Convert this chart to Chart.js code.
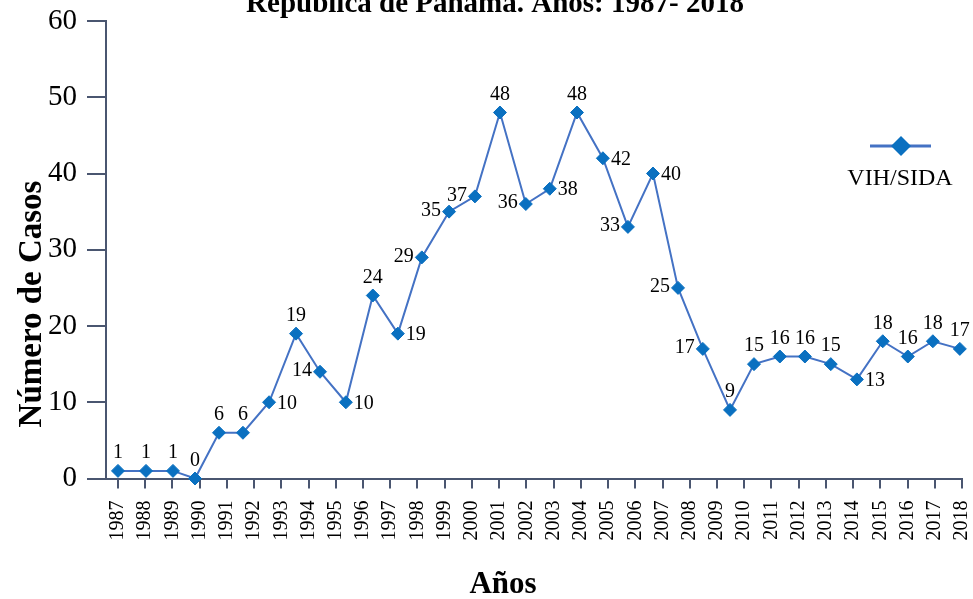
<!DOCTYPE html>
<html>
<head>
<meta charset="utf-8">
<script src="https://cdn.jsdelivr.net/npm/chart.js@4/dist/chart.umd.min.js"></script>
<style>
  html, body { margin: 0; padding: 0; background: #fff; }
  #wrap { width: 973px; height: 599px; }
</style>
</head>
<body>
<div id="wrap"><canvas id="chart" width="973" height="599"></canvas></div>
<script>
// --- DATA ---
const years = [1987, 1988, 1989, 1990, 1991, 1992, 1993, 1994, 1995, 1996, 1997, 1998, 1999, 2000, 2001, 2002,
  2003, 2004, 2005, 2006, 2007, 2008, 2009, 2010, 2011, 2012, 2013, 2014, 2015, 2016, 2017, 2018];
// where each point sits along the year axis
const pointYears = [1987.00, 1988.03, 1989.02, 1989.83, 1990.71, 1991.59, 1992.55, 1993.54, 1994.42, 1995.37,
  1996.36, 1997.28, 1998.16, 1999.16, 2000.11, 2001.03, 2001.98, 2002.86, 2003.86, 2004.81, 2005.73, 2006.65,
  2007.57, 2008.48, 2009.48, 2010.36, 2011.31, 2012.23, 2013.18, 2014.14, 2015.09, 2016.01, 2016.93, 2017.92];
const casos = [1, 1, 1, 0, 6, 6, 10, 19, 14, 10, 24, 19, 29, 35, 37, 48, 36, 38, 48, 42, 33, 40, 25, 17, 9,
  15, 16, 16, 15, 13, 18, 16, 18, 17];
const yTicks = [0, 10, 20, 30, 40, 50, 60];

const serif = "'Liberation Serif', 'Times New Roman', serif";
const axisColor = '#4A5670';
const lineColor = '#4472C4';
const markerColor = '#0A70C0';

// label placement per point: t = above, r = right, l = left
const labelSide = ['t','t','t','t','t','t','r','t','l','r','t','r','l','l','l','t','l','r','t','r','l','r',
  'l','l','t','t','t','t','t','r','t','t','t','t'];

const valueLabels = {
  id: 'valueLabels',
  afterDatasetsDraw(chart) {
    const ctx = chart.ctx;
    const meta = chart.getDatasetMeta(0);
    ctx.save();
    ctx.font = `20px ${serif}`;
    ctx.fillStyle = '#000';
    ctx.textBaseline = 'middle';
    meta.data.forEach((pt, i) => {
      const side = labelSide[i];
      const txt = String(casos[i]);
      if (side === 't') {
        ctx.textAlign = 'center';
        ctx.fillText(txt, pt.x, pt.y - 18);
      } else if (side === 'r') {
        ctx.textAlign = 'left';
        ctx.fillText(txt, pt.x + 8, pt.y + 1);
      } else {
        ctx.textAlign = 'right';
        ctx.fillText(txt, pt.x - 8, pt.y - 1);
      }
    });
    ctx.restore();
  }
};

const decor = {
  id: 'decor',
  afterDraw(chart) {
    const ctx = chart.ctx;
    ctx.save();
    ctx.fillStyle = '#000';
    // title (top line cut by the frame)
    ctx.font = `bold 29px ${serif}`;
    ctx.textAlign = 'center';
    ctx.textBaseline = 'alphabetic';
    ctx.fillText('República de Panamá. Años: 1987- 2018', 495, 12);
    // axis titles
    ctx.font = `bold 31px ${serif}`;
    ctx.fillText('Años', 503, 593);
    ctx.save();
    ctx.translate(41, 304);
    ctx.rotate(-Math.PI / 2);
    ctx.font = `bold 33px ${serif}`;
    ctx.fillText('Número de Casos', 0, 0);
    ctx.restore();
    // legend
    ctx.strokeStyle = lineColor;
    ctx.lineWidth = 3;
    ctx.beginPath();
    ctx.moveTo(870, 146);
    ctx.lineTo(931, 146);
    ctx.stroke();
    ctx.fillStyle = markerColor;
    ctx.beginPath();
    ctx.moveTo(901, 136);
    ctx.lineTo(911, 146);
    ctx.lineTo(901, 156);
    ctx.lineTo(891, 146);
    ctx.closePath();
    ctx.fill();
    ctx.fillStyle = '#000';
    ctx.font = `24px ${serif}`;
    ctx.fillText('VIH/SIDA', 900, 185);
    ctx.restore();
  }
};

new Chart(document.getElementById('chart'), {
  type: 'line',
  data: {
    datasets: [{
      label: 'VIH/SIDA',
      data: pointYears.map((x, i) => ({ x, y: casos[i] })),
      borderColor: lineColor,
      borderWidth: 2,
      tension: 0,
      pointStyle: 'rectRot',
      pointRadius: 6.5,
      pointBackgroundColor: markerColor,
      pointBorderColor: markerColor,
      pointBorderWidth: 1,
      clip: false
    }]
  },
  options: {
    responsive: false,
    animation: false,
    devicePixelRatio: 1,
    layout: { padding: { top: 21, right: 11, left: 0, bottom: 0 } },
    plugins: { legend: { display: false }, title: { display: false }, tooltip: { enabled: false } },
    scales: {
      x: {
        type: 'linear',
        min: 1986.56,
        max: 2018,
        afterBuildTicks: s => { s.ticks = years.map(v => ({ value: v })); },
        afterFit: s => { s.height = 120.5; s.paddingLeft = 0; s.paddingRight = 0; },
        ticks: {
          autoSkip: false, minRotation: 90, maxRotation: 90, padding: 12,
          color: '#000', font: { family: serif, size: 20 },
          callback: v => String(v)
        },
        grid: { drawOnChartArea: false, tickLength: 10, color: axisColor, lineWidth: 2 },
        border: { color: axisColor, width: 2 }
      },
      y: {
        min: 0,
        max: 60,
        afterBuildTicks: s => { s.ticks = yTicks.map(v => ({ value: v })); },
        afterFit: s => { s.width = 106; s.paddingTop = 0; s.paddingBottom = 0; },
        ticks: { padding: 10, color: '#000', font: { family: serif, size: 29 } },
        grid: { drawOnChartArea: false, tickLength: 19, color: axisColor, lineWidth: 2 },
        border: { color: axisColor, width: 2 }
      }
    }
  },
  plugins: [valueLabels, decor]
});
</script>
</body>
</html>
